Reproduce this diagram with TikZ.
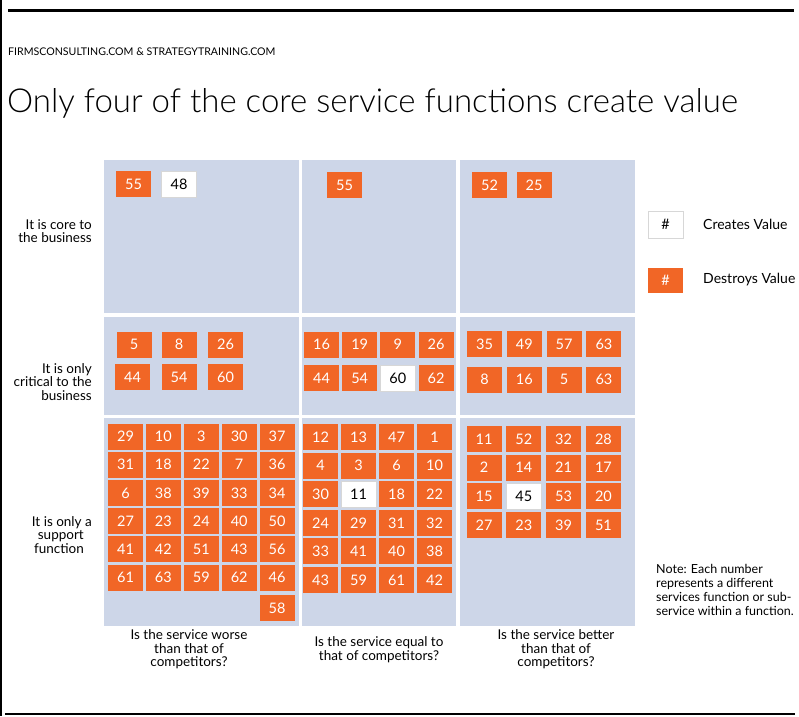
\documentclass[tikz,border=0pt]{standalone}
\usepackage{fontspec}
\setmainfont{Lato}
\newfontfamily\titlefont{Lato Light}
\definecolor{gridblue}{RGB}{205,214,232}
\definecolor{vorange}{RGB}{241,102,38}
\definecolor{boxedge}{RGB}{215,215,215}
\tikzset{
  cell/.style={fill=gridblue},
  obox/.style={fill=vorange, text=white, minimum width=35pt, minimum height=26pt, inner sep=0pt, font=\fontsize{14.5}{14.5}\selectfont},
  wbox/.style={obox, fill=white, text=black, draw=boxedge, line width=0.6pt},
  rowlab/.style={align=right, anchor=east, font=\fontsize{13.5}{13.5}\selectfont, inner sep=0pt},
  collab/.style={align=center, font=\fontsize{13.5}{13.5}\selectfont, inner sep=0pt},
  legtext/.style={anchor=west, font=\fontsize{14}{15}\selectfont, inner sep=0pt},
}
\begin{document}
\begin{tikzpicture}[x=1pt,y=-1pt]
\useasboundingbox (0,0) rectangle (799,716);
% frame lines
\draw[line width=3pt] (8,10) -- (794,10);
\draw[line width=1.5pt] (0.75,0) -- (0.75,716);
\draw[line width=2pt] (5,714) -- (795,714);
% header
\node[anchor=base west, inner sep=0pt, font=\fontsize{10.6}{12}\selectfont] (hdr) at (8,55) {FIRMSCONSULTING.COM \& STRATEGYTRAINING.COM};
\node[anchor=base west, inner sep=0pt, font=\titlefont\fontsize{33}{40}\selectfont] (title) at (7,112) {Only four of the core service functions create value};
% grid cells
\fill[cell] (104,160) rectangle (299,313);
\fill[cell] (302,160) rectangle (456,313);
\fill[cell] (460,160) rectangle (635,313);
\fill[cell] (104,316.5) rectangle (299,414.5);
\fill[cell] (302,316.5) rectangle (456,414.5);
\fill[cell] (460,316.5) rectangle (635,414.5);
\fill[cell] (104,418) rectangle (299,626);
\fill[cell] (302,418) rectangle (456,626);
\fill[cell] (460,418) rectangle (635,626);
% row labels
\node[rowlab] (rl1) at (92,231) {It is core to\\the business};
\node[rowlab] (rl2) at (92,382) {It is only\\critical to the\\business};
\node[rowlab] (rl3) at (92,535) {It is only a\\support\kern8pt\\function\kern8pt};
% column labels
\node[collab] (cl1) at (189,649.5) {Is the service worse\\than that of\\competitors?};
\node[collab] (cl2) at (379,649.5) {Is the service equal to\\that of competitors?};
\node[collab] (cl3) at (556,649.5) {Is the service better\\than that of\\competitors?};
% row 1
\node[obox] (a1) at (133.5,184) {55};
\node[wbox] (a2) at (179,184.5) {48};
\node[obox] (b1) at (344.5,185) {55};
\node[obox] (c1) at (489.5,185) {52};
\node[obox] (c2) at (534,185) {25};
% row 2, col 1
\foreach \x/\y/\v [count=\i] in {134/344.5/5,179/344.5/8,225.5/344.5/26,132.5/377/44,179/377/54,225.5/377/60}
  \node[obox] (d\i) at (\x,\y) {\v};
% row 2, col 2
\foreach \v/\s [count=\i from 0] in {16/obox,19/obox,9/obox,26/obox,44/obox,54/obox,60/wbox,62/obox}
  \node[\s] (e\i) at ({321.5+mod(\i,4)*38.2},{344.5+int(\i/4)*33.5}) {\v};
% row 2, col 3
\foreach \v/\s [count=\i from 0] in {35/obox,49/obox,57/obox,63/obox,8/obox,16/obox,5/obox,63/obox}
  \node[\s] (f\i) at ({484.5+mod(\i,4)*39.8},{344+int(\i/4)*35.5}) {\v};
% row 3, col 1
\foreach \v/\s [count=\i from 0] in {29/obox,10/obox,3/obox,30/obox,37/obox,
  31/obox,18/obox,22/obox,7/obox,36/obox,
  6/obox,38/obox,39/obox,33/obox,34/obox,
  27/obox,23/obox,24/obox,40/obox,50/obox,
  41/obox,42/obox,51/obox,43/obox,56/obox,
  61/obox,63/obox,59/obox,62/obox,46/obox}
  \node[\s] (g\i) at ({125.5+mod(\i,5)*37.9},{436.5+int(\i/5)*28.2}) {\v};
\node[obox] (g30) at (277,608) {58};
% row 3, col 2
\foreach \v/\s [count=\i from 0] in {12/obox,13/obox,47/obox,1/obox,
  4/obox,3/obox,6/obox,10/obox,
  30/obox,11/wbox,18/obox,22/obox,
  24/obox,29/obox,31/obox,32/obox,
  33/obox,41/obox,40/obox,38/obox,
  43/obox,59/obox,61/obox,42/obox}
  \node[\s] (h\i) at ({320.5+mod(\i,4)*38},{437+int(\i/4)*28.6}) {\v};
% row 3, col 3
\foreach \v/\s [count=\i from 0] in {11/obox,52/obox,32/obox,28/obox,
  2/obox,14/obox,21/obox,17/obox,
  15/obox,45/wbox,53/obox,20/obox,
  27/obox,23/obox,39/obox,51/obox}
  \node[\s] (k\i) at ({484+mod(\i,4)*39.8},{439+int(\i/4)*28.7}) {\v};
% legend
\node[wbox, minimum height=27pt] (lw) at (665.5,224.5) {\#};
\node[legtext] (lwt) at (703,224) {Creates Value};
\node[obox, minimum height=25pt] (lo) at (665.5,280.5) {\#};
\node[legtext] (lot) at (703,280) {Destroys Value};
% note
\node[anchor=west, align=left, inner sep=0pt, font=\fontsize{12.5}{13.8}\selectfont] (note) at (656,590)
  {Note: Each number\\represents a different\\services function or sub-\\service within a function.};
\end{tikzpicture}
\end{document}
